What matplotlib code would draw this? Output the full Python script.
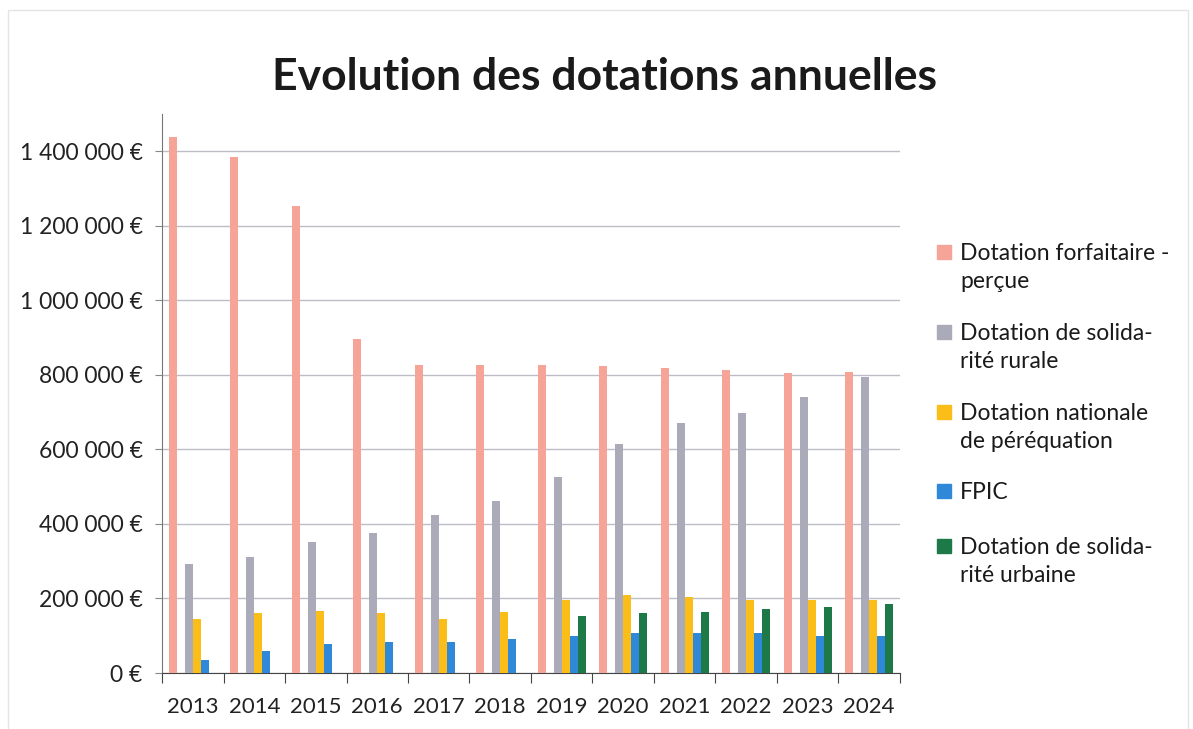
import matplotlib.pyplot as plt
import matplotlib.patches as mpatches
import numpy as np

plt.rcParams['font.family'] = ['Lato', 'DejaVu Sans']

years = ['2013', '2014', '2015', '2016', '2017', '2018',
         '2019', '2020', '2021', '2022', '2023', '2024']

forfaitaire = [1438000, 1384000, 1254000, 895000, 827000, 827000,
               826000, 825000, 819000, 812000, 805000, 808000]
solidarite_rurale = [292000, 310000, 351000, 376000, 425000, 462000,
                     527000, 615000, 671000, 699000, 741000, 794000]
perequation = [146000, 160000, 166000, 160000, 144000, 164000,
               196000, 209000, 205000, 196000, 196000, 196000]
fpic = [36000, 59000, 79000, 83000, 83000, 90000,
        98000, 106000, 108000, 106000, 98000, 98000]
solidarite_urbaine = [0, 0, 0, 0, 0, 0,
                      153000, 160000, 165000, 171000, 176000, 184000]

series = [forfaitaire, solidarite_rurale, perequation, fpic, solidarite_urbaine]
labels = ['Dotation forfaitaire -\nperçue', 'Dotation de solida-\nrité rurale',
          'Dotation nationale\nde péréquation', 'FPIC',
          'Dotation de solida-\nrité urbaine']
colors = ['#F6A398', '#ABAAB8', '#FBBD18', '#2F88D8', '#1D7A48']
slots = [0, 2, 3, 4, 5]  # one empty slot after the first series

fig = plt.figure(figsize=(11.93, 7.29), dpi=100)
ax = fig.add_axes([162 / 1193, 56 / 729, 738 / 1193, 559 / 729])

x = np.arange(len(years))
width = 0.13
for vals, col, s in zip(series, colors, slots):
    ax.bar(x + (s - 2.5) * width, vals, width=width, color=col, zorder=3)

ax.set_xlim(-0.5, len(years) - 0.5)
ax.set_ylim(0, 1500000)
ax.set_yticks(np.arange(0, 1400001, 200000))
ax.set_yticklabels([('{:,}'.format(v).replace(',', ' ') + ' €') for v in range(0, 1400001, 200000)],
                   fontsize=16.5, color='#222222')
ax.yaxis.grid(True, color='#BDBDC8', linewidth=1.0, zorder=0)

ax.set_xticks(np.arange(-0.5, len(years), 1.0))
ax.set_xticklabels([])
ax.set_xticks(x, minor=True)
ax.set_xticklabels(years, minor=True, fontsize=16, color='#222222')
ax.tick_params(axis='x', which='major', length=7, direction='out', color='#444444')
ax.tick_params(axis='x', which='minor', length=0, pad=17)
ax.tick_params(axis='y', length=5, color='#888888', pad=9)

for side in ['top', 'right']:
    ax.spines[side].set_visible(False)
ax.spines['left'].set_color('#777777')
ax.spines['bottom'].set_color('#444444')

fig.text(0.507, 0.895, 'Evolution des dotations annuelles', ha='center', va='center',
         fontsize=32, fontweight='bold', color='#1a1a1a')

# legend drawn by hand so the swatch sits on the first line
tops = [243, 323, 403, 482, 537]
for lab, col, ty in zip(labels, colors, tops):
    fig.patches.append(mpatches.Rectangle((937 / 1193, 1 - (ty + 16) / 729), 14 / 1193, 14 / 729,
                                          transform=fig.transFigure, color=col))
    fig.text(960 / 1193, 1 - ty / 729, lab, ha='left', va='top',
             fontsize=16.5, color='#1a1a1a', linespacing=1.4)

fig.patches.append(mpatches.Rectangle((8 / 1193, -0.01), 1180 / 1193, 1 - 10 / 729 + 0.01,
                                      transform=fig.transFigure, fill=False,
                                      edgecolor='#E4E4E4', linewidth=1))

fig.savefig('out.png', dpi=100)
